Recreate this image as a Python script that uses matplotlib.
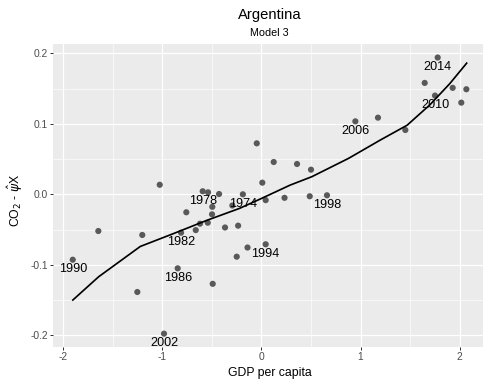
import numpy as np
import matplotlib
matplotlib.use('Agg')
import matplotlib.pyplot as plt
from matplotlib.ticker import FixedLocator

plt.rcParams['font.family'] = ['Liberation Sans', 'DejaVu Sans']
plt.rcParams['axes.unicode_minus'] = False

# points (GDP per capita vs residual CO2)
gdp = [-1.024, -0.046, 1.778, 1.647, 1.929, 2.067, 1.751, 2.016, 0.948, 1.176,
       1.452, 0.125, 0.360, 0.501, 0.010, 0.044, 0.234, 0.488, 0.662, 0.044,
       -0.591, -0.537, -0.426, -0.186, -0.292, -0.494, -0.756, -0.497, -0.618, -0.540,
       -0.366, -0.234, -0.661, -0.809, -1.200, -1.643, -0.139, -0.248, -1.901, -0.843,
       -0.490, -1.250, -0.981]
co2 = [0.0135, 0.0723, 0.194, 0.158, 0.151, 0.149, 0.140, 0.130, 0.1035, 0.1087,
       0.0912, 0.0458, 0.043, 0.0349, 0.0165, -0.0083, -0.005, -0.0028, -0.0014, -0.0709,
       0.0043, 0.0028, 0.0004, 0.0, -0.0159, -0.0178, -0.0255, -0.0284, -0.0417, -0.0403,
       -0.0471, -0.0445, -0.0508, -0.0545, -0.0577, -0.0521, -0.0755, -0.0885, -0.0928, -0.105,
       -0.127, -0.1386, -0.1977]

# labelled years -> index of the point
label_years = [1974, 1978, 1982, 1986, 1990, 1994, 1998, 2002, 2006, 2010, 2014]
label_idx = [23, 20, 33, 39, 38, 19, 18, 42, 8, 6, 2]

# fitted curve
fit_x = [-1.90, -1.64, -1.22, -0.89, -0.55, -0.22, 0.0, 0.29, 0.51, 0.88, 1.20, 1.47, 1.70, 1.90, 2.07]
fit_y = [-0.150, -0.117, -0.074, -0.056, -0.037, -0.020, -0.006, 0.013, 0.025, 0.051, 0.077, 0.098, 0.127, 0.157, 0.186]

W, H = 483, 383
fig = plt.figure(figsize=(W / 72, H / 72), dpi=72)
ax = fig.add_axes([53 / W, (H - 346.7) / H, 433 / W, (346.7 - 44) / H])
ax.set_facecolor('#EBEBEB')
for s in ax.spines.values():
    s.set_visible(False)

ax.set_xlim(-2.1, 2.265)
ax.set_ylim(-0.2162, 0.2132)
ax.xaxis.set_major_locator(FixedLocator([-2, -1, 0, 1, 2]))
ax.xaxis.set_minor_locator(FixedLocator([-1.5, -0.5, 0.5, 1.5]))
ax.yaxis.set_major_locator(FixedLocator([-0.2, -0.1, 0.0, 0.1, 0.2]))
ax.yaxis.set_minor_locator(FixedLocator([-0.15, -0.05, 0.05, 0.15]))
ax.set_xticklabels(['-2', '-1', '0', '1', '2'])
ax.set_yticklabels(['-0.2', '-0.1', '0.0', '0.1', '0.2'])
ax.grid(which='major', color='white', lw=1.2)
ax.grid(which='minor', color='white', lw=0.6)
ax.set_axisbelow(True)
ax.tick_params(which='major', length=3, width=1.0, color='#333333',
               labelsize=10.3, labelcolor='#4D4D4D', pad=2.2)
ax.tick_params(which='minor', length=0)

ax.scatter(gdp, co2, s=38, color='#595959', edgecolors='none', zorder=3)
ax.plot(fit_x, fit_y, color='black', lw=1.7, zorder=4)

for yr, i in zip(label_years, label_idx):
    ax.annotate(str(yr), (gdp[i], co2[i]), xytext=(0, -9.5), textcoords='offset points',
                ha='center', va='center', fontsize=12.6, color='black', zorder=5)

cx = (53 + 486) / 2 / W
fig.text(cx, 1 - 19.5 / H, 'Argentina', ha='center', va='baseline', fontsize=14.7)
fig.text(cx, 1 - 36 / H, 'Model 3', ha='center', va='baseline', fontsize=10.7)
fig.text(cx, 1 - 373 / H, 'GDP per capita', ha='center', va='center', fontsize=12.3)
fig.text(15 / W, 1 - 200 / H, r'CO$_2$ - $\hat{\psi}$X', ha='center', va='center',
         rotation=90, fontsize=12.3)

fig.savefig('out.png', dpi=72)
